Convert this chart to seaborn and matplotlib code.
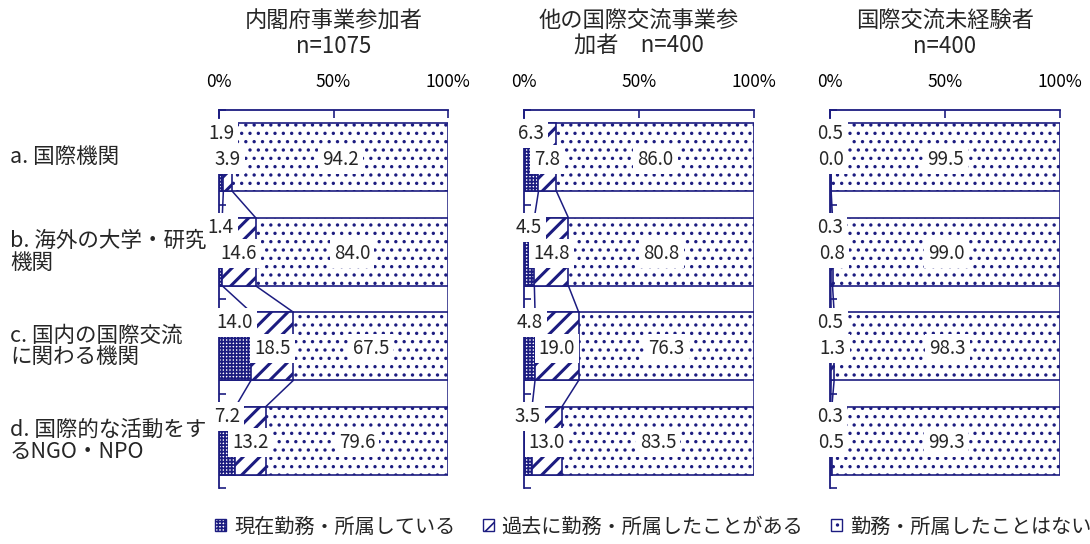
import numpy as np
import pandas as pd
import matplotlib
matplotlib.use("Agg")
import matplotlib.pyplot as plt
import matplotlib.transforms as mtransforms
from matplotlib.patches import Patch
import seaborn as sns

# categories (rows) and panel headers
categories = ["a. 国際機関", "b. 海外の大学・研究\n機関", "c. 国内の国際交流\nに関わる機関", "d. 国際的な活動をす\nるNGO・NPO"]
panel_titles = ["内閣府事業参加者\nn=1075", "他の国際交流事業参\n加者　n=400", "国際交流未経験者\nn=400"]
series_names = ["現在勤務・所属している", "過去に勤務・所属したことがある", "勤務・所属したことはない"]

# percentages per panel
current_pct = [[1.9, 1.4, 14.0, 7.2],
               [6.3, 4.5, 4.8, 3.5],
               [0.5, 0.3, 0.5, 0.3]]
past_pct = [[3.9, 14.6, 18.5, 13.2],
            [7.8, 14.8, 19.0, 13.0],
            [0.0, 0.8, 1.3, 0.5]]
never_pct = [[94.2, 84.0, 67.5, 79.6],
             [86.0, 80.8, 76.3, 83.5],
             [99.5, 99.0, 98.3, 99.3]]

tick_vals = [0, 50, 100]
tick_labels = ["0%", "50%", "100%"]

NAVY = "#1c1c80"
hatches = ["+++++", "//", ".."]
hatch_lw = [1.3, 2.2, 1.2]
bar_h = 0.72

sns.set_theme(style="white")
plt.rcParams['font.family'] = ['Noto Sans CJK JP', 'DejaVu Sans']
plt.rcParams['hatch.linewidth'] = 1.2

W, H = 1090, 544
fig = plt.figure(figsize=(W / 100, H / 100), dpi=100)

lefts = [219, 524, 830]
widths = [229, 230, 230]
axes = []

for k in range(3):
    ax = fig.add_axes([lefts[k] / W, 56 / H, widths[k] / W, 378 / H])
    axes.append(ax)
    cur = np.array(current_pct[k])
    past = np.array(past_pct[k])
    nev = np.array(never_pct[k])
    df = pd.DataFrame({"cat": categories,
                       "cur": cur,
                       "cum2": cur + past,
                       "tot": cur + past + nev})

    # draw layered cumulative bars: total first, then current+past, then current
    for col, s in [("tot", 2), ("cum2", 1), ("cur", 0)]:
        n0 = len(ax.patches)
        sns.barplot(data=df, x=col, y="cat", ax=ax, color="white", saturation=1,
                    edgecolor=NAVY, linewidth=1.2, hatch=hatches[s], width=bar_h,
                    errorbar=None)
        for p in ax.patches[n0:]:
            if hasattr(p, "set_hatch_linewidth"):
                p.set_hatch_linewidth(hatch_lw[s])

    # series lines between bars
    cums = [cur, cur + past, np.minimum(cur + past + nev, 100)]
    for i in range(len(categories) - 1):
        for c in cums:
            ax.plot([c[i], c[i + 1]], [i + bar_h / 2, i + 1 - bar_h / 2],
                    color=NAVY, lw=1.1, zorder=2)

    # value labels
    box = dict(facecolor="white", edgecolor="none", pad=3)
    for i in range(len(categories)):
        ax.text(cur[i] / 2, i - 0.255, f"{cur[i]:.1f}", ha="center", va="center",
                fontsize=13.5, bbox=box, zorder=5)
        ax.text(cur[i] + past[i] / 2, i + 0.02, f"{past[i]:.1f}", ha="center", va="center",
                fontsize=13.5, bbox=box, zorder=5)
        ax.text(cur[i] + past[i] + nev[i] / 2, i + 0.02, f"{nev[i]:.1f}", ha="center", va="center",
                fontsize=13.5, bbox=box, zorder=5)

    ax.set_xlim(0, 100)
    ax.set_ylim(3.5, -0.5)
    ax.set_xlabel("")
    ax.set_ylabel("")
    ax.xaxis.tick_top()
    ax.set_xticks(tick_vals)
    ax.set_xticklabels(tick_labels)
    ax.tick_params(axis="x", which="major", top=True, bottom=False, labeltop=True,
                   labelbottom=False, direction="in", length=6, width=1.2,
                   color=NAVY, pad=14, labelsize=12.5, labelcolor="black")
    ax.set_yticks([])
    ax.set_yticks([-0.5, 0.5, 1.5, 2.5, 3.5], minor=True)
    ax.tick_params(axis="y", which="minor", left=True, direction="in", length=5,
                   width=1.2, color=NAVY)
    for side in ["right", "bottom"]:
        ax.spines[side].set_visible(False)
    for side in ["top", "left"]:
        ax.spines[side].set_color(NAVY)
        ax.spines[side].set_linewidth(1.3)
    ax.grid(False)

    ax.text(0.5, 1.201, panel_titles[k], transform=ax.transAxes, ha="center",
            va="center", fontsize=16, linespacing=1.1)

# category labels at the left edge
trans = mtransforms.blended_transform_factory(fig.transFigure, axes[0].transData)
for i, cat in enumerate(categories):
    axes[0].text(10 / W, i, cat, transform=trans, ha="left", va="center",
                 fontsize=15.5, linespacing=1.0, clip_on=False)

handles = [Patch(facecolor="white", edgecolor=NAVY, hatch=h, linewidth=1) for h in hatches]
fig.legend(handles, series_names, loc="center left", bbox_to_anchor=(215 / W, 1 - 527 / H),
           ncol=3, frameon=False, fontsize=14.5, handlelength=0.55, handleheight=0.55,
           handletextpad=0.4, columnspacing=1.35, borderpad=0, borderaxespad=0)

fig.savefig("out.png", dpi=100)
